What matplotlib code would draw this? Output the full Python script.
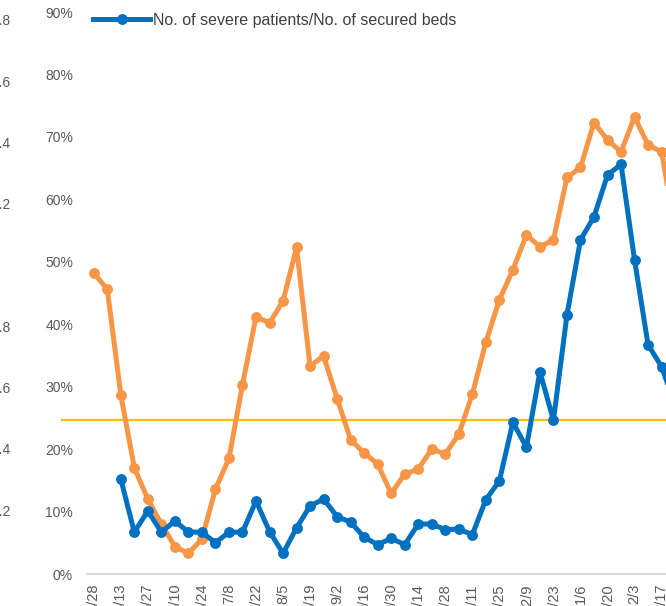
import matplotlib
matplotlib.use("Agg")
import matplotlib.pyplot as plt
from matplotlib.transforms import blended_transform_factory
from matplotlib.ticker import FuncFormatter

plt.rcParams['font.family'] = ['Liberation Sans', 'DejaVu Sans']

# ---- data (weekly, percent) ----
tick_labels = ["4/28", "5/13", "5/27", "6/10", "6/24", "7/8", "7/22", "8/5", "8/19",
               "9/2", "9/16", "9/30", "10/14", "10/28", "11/11", "11/25", "12/9",
               "12/23", "1/6", "1/20", "2/3", "2/17"]

orange_vals = [48.2, 45.6, 28.7, 17.0, 12.0, 8.0, 4.4, 3.3, 5.6, 13.6, 18.5, 30.3,
               41.2, 40.2, 43.7, 52.3, 33.3, 34.9, 28.1, 21.5, 19.4, 17.6, 12.9, 16.0,
               16.8, 20.0, 19.2, 22.4, 28.8, 37.1, 43.9, 48.7, 54.3, 52.4, 53.5, 63.5,
               65.1, 72.3, 69.5, 67.6, 73.2, 68.7, 67.6, 55.0]

blue_vals = [None, None, 15.2, 6.7, 10.1, 6.7, 8.5, 6.7, 6.7, 5.0, 6.7, 6.7,
             11.7, 6.8, 3.3, 7.4, 10.9, 12.0, 9.2, 8.3, 5.9, 4.7, 5.7, 4.7,
             8.0, 8.0, 7.1, 7.2, 6.3, 11.9, 14.9, 24.3, 20.3, 32.4, 24.6, 41.5,
             53.5, 57.2, 63.9, 65.6, 50.3, 36.7, 33.2, 27.0]

threshold = 24.7
left_ticks = [0.2, 0.4, 0.6, 0.8, 1.2, 1.4, 1.6, 1.8]
pct_ticks = [0, 10, 20, 30, 40, 50, 60, 70, 80, 90]
legend_label = "No. of severe patients/No. of secured beds"

# ---- figure ----
W, H = 666, 606
fig = plt.figure(figsize=(W / 100, H / 100), dpi=100)
n = len(orange_vals)
step = 13.52
left_px, bottom_px, top_px = 87, 574, 12
right_px = left_px + n * step
ax = fig.add_axes([left_px / W, (H - bottom_px) / H,
                   (right_px - left_px) / W, (bottom_px - top_px) / H])

x = list(range(n))
bx = [i for i, v in zip(x, blue_vals) if v is not None]
by = [v / 100 for v in blue_vals if v is not None]
oy = [v / 100 for v in orange_vals]

trans = blended_transform_factory(ax.transAxes, ax.transData)
ax.plot([(62 - left_px) / (right_px - left_px), 1.2], [threshold / 100] * 2,
        transform=trans, clip_on=False, color='#FFC000', lw=1.6, zorder=1)

ax.plot(x, oy, color='#F79646', lw=3.6, marker='o', ms=6.8, zorder=3,
        solid_joinstyle='round', label='_nolegend_', clip_on=False)
ax.plot(bx, by, color='#0070C0', lw=3.6, marker='o', ms=6.8, zorder=4,
        solid_joinstyle='round', label=legend_label, clip_on=False)

ax.set_xlim(-0.5, n - 0.5)
ax.set_ylim(0, 0.9)
ax.set_yticks([t / 100 for t in pct_ticks])
ax.yaxis.set_major_formatter(FuncFormatter(lambda v, p: f"{v * 100:.0f}%"))
ax.set_xticks(list(range(0, 2 * len(tick_labels), 2)))
ax.set_xticklabels(tick_labels, rotation=90)
ax.tick_params(axis='y', length=0, pad=10, labelsize=10, labelcolor='#595959')
ax.tick_params(axis='x', length=0, pad=6.8, labelsize=10.5, labelcolor='#595959')
for s in ['top', 'right', 'left']:
    ax.spines[s].set_visible(False)
ax.spines['bottom'].set_color('#D9D9D9')
ax.spines['bottom'].set_linewidth(1.5)

# secondary (left, outer) axis
ax2 = ax.twinx()
ax2.set_ylim(-0.0088, 1.826)
ax2.set_yticks(left_ticks)
ax2.yaxis.set_major_formatter(FuncFormatter(lambda v, p: f"{v:g}"))
ax2.yaxis.tick_left()
ax2.spines['left'].set_position(('outward', 45))
for s in ['top', 'right', 'left', 'bottom']:
    ax2.spines[s].set_visible(False)
ax2.tick_params(axis='y', length=0, pad=10, labelsize=10, labelcolor='#595959')
ax2.patch.set_visible(False)
ax.set_zorder(ax2.get_zorder() + 1)
ax.patch.set_visible(False)

leg = ax.legend(loc='center left', bbox_to_anchor=(93 / W, 1 - 20 / H),
                bbox_transform=fig.transFigure, frameon=False, fontsize=11.5,
                handlelength=3.6, handletextpad=0.15, borderpad=0, borderaxespad=0)
for t in leg.get_texts():
    t.set_color('#404040')

fig.savefig("out.png", dpi=100)
